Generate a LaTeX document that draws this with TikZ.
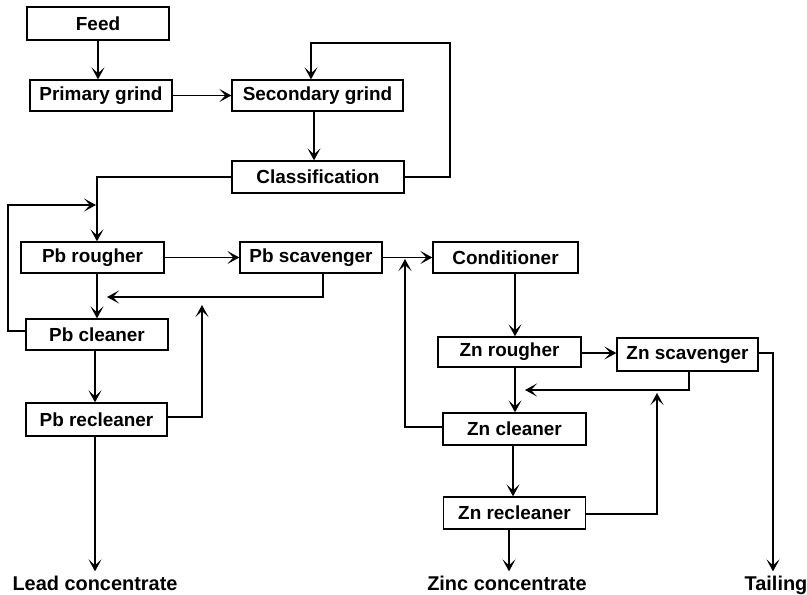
\documentclass[tikz,border=0pt]{standalone}
\usepackage{fontspec}
\setmainfont{Liberation Sans}
\usetikzlibrary{arrows.meta}
\begin{document}
\begin{tikzpicture}[x=1bp,y=-1bp,
  box/.style={draw, line width=1.3bp, inner sep=0pt, minimum width=142bp, minimum height=32bp,
    font=\fontsize{19}{21}\selectfont\bfseries},
  lab/.style={inner sep=0pt, font=\fontsize{20}{22}\selectfont\bfseries},
  arr/.style={line width=1.3bp, -{Stealth[length=12bp,width=13bp,inset=6bp]}},
  ln/.style={line width=1.3bp}]
\useasboundingbox (0,0) rectangle (807,595);
% boxes
\node[box, minimum height=33bp] (feed) at (98,23.5) {Feed};
\node[box, minimum height=31bp] (prim) at (101,95.5) {Primary grind};
\node[box, minimum width=171bp, minimum height=31bp] (sec) at (317.5,95.5) {Secondary grind};
\node[box, minimum width=172bp] (cls) at (318,177) {Classification};
\node[box, minimum width=143bp, minimum height=31bp] (pbr) at (92.5,257.5) {Pb rougher};
\node[box, minimum height=31bp] (pbs) at (311,257.5) {Pb scavenger};
\node[box, minimum height=31bp] (pbc) at (97,334.5) {Pb cleaner};
\node[box, minimum width=141bp, minimum height=33bp] (pbrc) at (96.5,419.5) {Pb recleaner};
\node[box, minimum width=145bp, minimum height=31bp] (cond) at (505.5,257.5) {Conditioner};
\node[box, minimum width=143bp, minimum height=30bp] (znr) at (509.5,352) {Zn rougher};
\node[box, minimum width=141bp, minimum height=33bp] (zns) at (687.5,354.5) {Zn scavenger};
\node[box, minimum width=143bp] (znc) at (514.5,429) {Zn cleaner};
\node[box, minimum width=142bp, minimum height=32bp] (znrc) at (514.5,513) {Zn recleaner};
% product labels
\node[lab, anchor=base] (lead) at (95,590) {Lead concentrate};
\node[lab, anchor=base] (zinc) at (507,590) {Zinc concentrate};
\node[lab, anchor=base] (tail) at (776,590) {Tailing};
% helper coordinates
\coordinate (c1) at (450,43);
\coordinate (c2) at (8,205);
\coordinate (c3) at (96,205);
\coordinate (c4) at (323,297);
\coordinate (c5) at (107,297);
\coordinate (c7) at (202,305);
\coordinate (c9) at (405,259);
\coordinate (c10) at (689,390);
\coordinate (c11) at (525,390);
\coordinate (c13) at (657,393);
% grinding circuit
\draw[arr] (feed.south) -- (feed.south |- prim.north);
\draw[arr] (prim.east) -- (sec.west |- prim.east);
\draw[arr] ([xshift=-3.5bp]sec.south) -- ([xshift=-3.5bp]sec.south |- cls.north);
\draw[arr] (cls.east) -| (c1) -| ([xshift=-6.5bp]sec.north);
\draw[arr] (cls.west) -| ([xshift=4.5bp]pbr.north);
% lead circuit
\draw[arr] ([yshift=3.5bp]pbc.west) -| (c2) -- (c3);
\draw[arr] (pbr.south -| pbc.north) -- (pbc.north);
\draw[arr] (pbr.east) -- (pbs.west);
\draw[arr] (pbs.south -| c4) |- (c5);
\draw[arr] ([xshift=-2bp]pbc.south) -- ([xshift=-2bp]pbc.south |- pbrc.north);
\draw[arr] ([yshift=2.5bp]pbrc.east) -| (c7);
\draw[arr, shorten >=4bp] ([xshift=-1.5bp]pbrc.south) -- ([xshift=-1.5bp]pbrc.south |- lead.north);
% zinc circuit
\draw[arr] (pbs.east) -- (cond.west);
\draw[arr] ([yshift=2bp]znc.west) -| (c9);
\draw[arr] ([xshift=9.5bp]cond.south) -- ([xshift=9.5bp]cond.south |- znr.north);
\draw[arr] ([yshift=-1bp]znr.east) -- ([yshift=-1bp]znr.east -| zns.west);
\draw[arr] ([xshift=5.5bp]znr.south) -- ([xshift=5.5bp]znr.south |- znc.north);
\draw[arr] (zns.south -| c10) |- (c11);
\draw[arr] ([xshift=-1.5bp]znc.south) -- ([xshift=-1.5bp]znc.south |- znrc.north);
\draw[arr] ([yshift=-1bp]znrc.east) -| (c13);
\draw[arr, shorten >=4bp] ([xshift=-5.5bp]znrc.south) -- ([xshift=-5.5bp]znrc.south |- zinc.north);
\draw[arr, shorten >=4bp] ([yshift=1.5bp]zns.east) -| ([xshift=-3bp]tail.north);
\end{tikzpicture}
\end{document}
